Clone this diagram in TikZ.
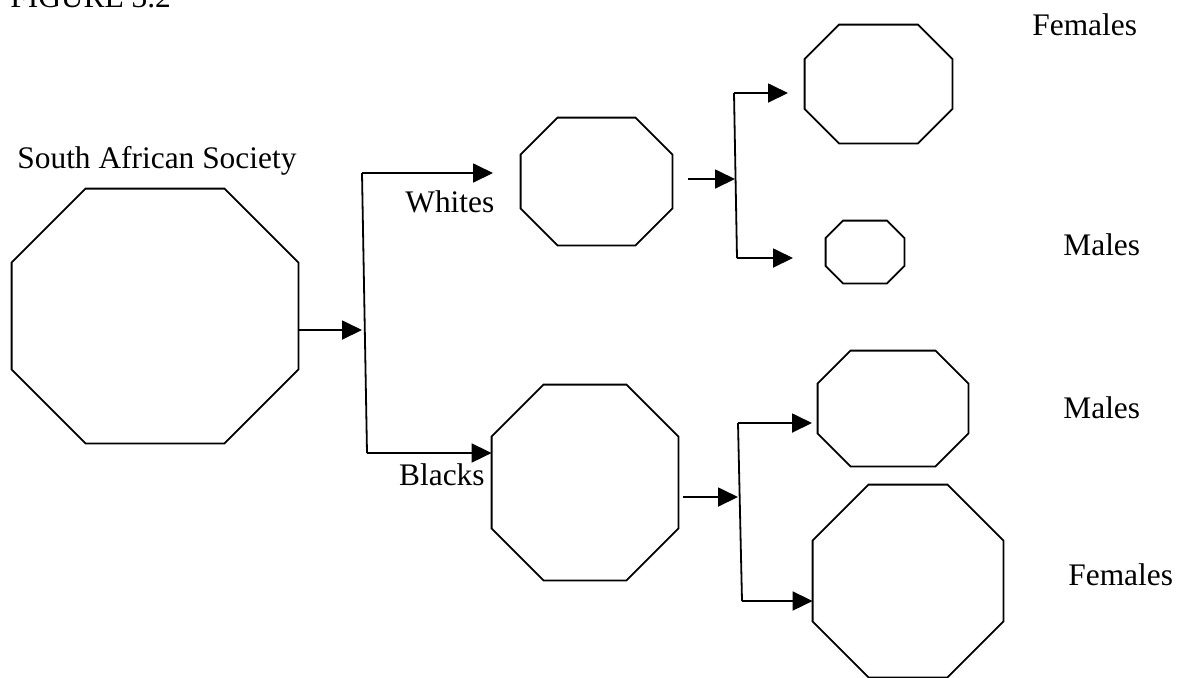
\documentclass[tikz,border=0pt]{standalone}
\usepackage{fontspec}
\setmainfont{Liberation Serif}
\usetikzlibrary{arrows.meta}
\tikzset{
  box/.style={draw=none, inner sep=0pt},
  flow/.style={-{Triangle[length=10pt, width=9.5pt]}, line width=0.9pt},
  link/.style={line width=0.9pt},
  lbl/.style={font=\fontsize{15.7}{18}\selectfont, inner sep=0pt, anchor=base west},
}

\begin{document}
\begin{tikzpicture}[x=0.5pt, y=-0.5pt]
  \useasboundingbox (0,0) rectangle (1178,677);
  \clip (0,0) rectangle (1178,677);

  % octagons: name/x/y/width/height (pt)/corner cut (pt)
  \foreach \n/\x/\y/\w/\h/\c in {soc/155/316/143/127/37, whi/596.5/181.5/75.5/63.5/18.5,
      wfem/878.5/84/73.5/59/17.2, wmal/865/252/39/31/8.7,
      bla/585/482.5/93/97.5/26, bmal/893/408.5/75/57.5/16.5, bfem/908/581/95/96/28}
  {
    \node[box, minimum width=\w pt, minimum height=\h pt] (\n) at (\x,\y) {};
    \draw[link] ([xshift=\c pt]\n.north west) -- ([xshift=-\c pt]\n.north east)
      -- ([yshift=-\c pt]\n.north east) -- ([yshift=\c pt]\n.south east)
      -- ([xshift=-\c pt]\n.south east) -- ([xshift=\c pt]\n.south west)
      -- ([yshift=\c pt]\n.south west) -- ([yshift=-\c pt]\n.north west) -- cycle;
  }

  % labels
  \node[lbl] (fig) at (10,7) {FIGURE 3.2};
  \node[lbl] (socl) at (17,168) {South African Society};
  \node[lbl] (whil) at (405,212) {Whites};
  \node[lbl, anchor=base east] (blal) at (485,485) {Blacks};
  \node[lbl] (fl1) at (1032,35) {Females};
  \foreach \n/\y in {ml1/255, ml2/418}
    \node[lbl] (\n) at (1063,\y) {Males};
  \node[lbl] (fl2) at (1068,585) {Females};

  % society splits into whites and blacks
  \coordinate (j1) at (362,330);
  \coordinate (j1t) at (362,173);
  \coordinate (j1b) at (367,453);
  \coordinate (wtip) at (493,173);
  \draw[flow] (soc.east |- j1) -- (j1);
  \draw[link] (j1t) -- (j1b);
  \draw[flow] (j1t) -- (wtip);
  \draw[flow] (j1b) -- (bla.west |- j1b);

  % whites split by sex
  \coordinate (j2in) at (688,179);
  \coordinate (j2) at (735,179);
  \coordinate (j2t) at (734,93);
  \coordinate (j2b) at (737,258);
  \coordinate (wftip) at (788,93);
  \coordinate (wmtip) at (793,258);
  \draw[flow] (j2in) -- (j2);
  \draw[link] (j2t) -- (j2b);
  \draw[flow] (j2t) -- (wftip);
  \draw[flow] (j2b) -- (wmtip);

  % blacks split by sex
  \coordinate (j3in) at (683,497);
  \coordinate (j3) at (738,497);
  \coordinate (j3t) at (738,423);
  \coordinate (j3b) at (742,601);
  \coordinate (bmtip) at (812,423);
  \draw[flow] (j3in) -- (j3);
  \draw[link] (j3t) -- (j3b);
  \draw[flow] (j3t) -- (bmtip);
  \draw[flow] (j3b) -- (bfem.west |- j3b);
\end{tikzpicture}
\end{document}
